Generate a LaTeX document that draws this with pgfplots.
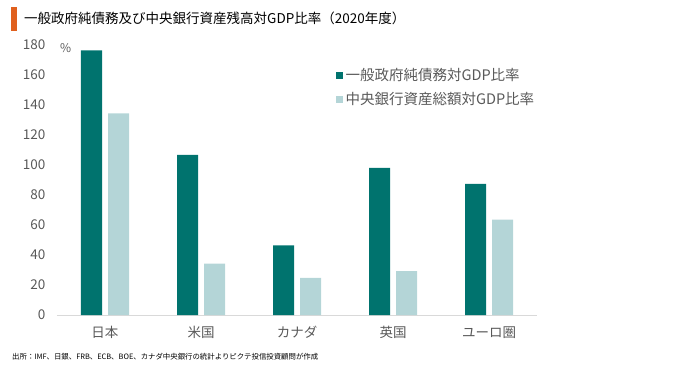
\documentclass[border=0pt]{standalone}
\usepackage{fontspec}
\setmainfont{Noto Sans CJK JP}
\usepackage{pgfplots}
\pgfplotsset{compat=1.18}
\definecolor{darkteal}{HTML}{00736E}
\definecolor{lightteal}{HTML}{B4D5D7}
\definecolor{txtgray}{HTML}{595959}
\definecolor{axgray}{HTML}{D9D9D9}
\definecolor{orangebar}{HTML}{E0601E}
\begin{document}
\begin{tikzpicture}[x=1pt,y=1pt]
\path[use as bounding box] (0,0) rectangle (680,368);
\fill[orangebar] (11,337) rectangle (17,361);
\node[anchor=west,inner sep=0pt,font=\fontsize{13.5}{14}\selectfont] at (24,350) {一般政府純債務及び中央銀行資産残高対GDP比率（2020年度）};
\node[anchor=west,inner sep=0pt,font=\fontsize{7.4}{8}\selectfont] at (12,11) {出所：IMF、日銀、FRB、ECB、BOE、カナダ中央銀行の統計よりピクテ投信投資顧問が作成};
\node[anchor=west,inner sep=0pt,text=txtgray,font=\fontsize{12}{13}\selectfont] at (60,320) {\%};
\begin{axis}[
  at={(57pt,53pt)}, anchor=south west,
  scale only axis, width=480pt, height=270pt,
  xmin=-0.5, xmax=4.5, ymin=0, ymax=180,
  ytick={0,20,...,180},
  xtick={0,1,2,3,4},
  xticklabels={日本,米国,カナダ,英国,ユーロ圏},
  axis x line=bottom, axis y line=left,
  x axis line style={draw=axgray, line width=1pt, -},
  y axis line style={draw=none},
  major tick length=0pt,
  tick label style={text=txtgray, font=\fontsize{13.5}{14}\selectfont},
  /pgf/number format/assume math mode=true,
  yticklabel style={xshift=-8pt},
  xticklabel style={yshift=-8pt},
  legend style={draw=none, fill=none, at={(0.58,0.92)}, anchor=north west,
    font=\fontsize{14.5}{15}\selectfont, text=txtgray, row sep=6pt,
    legend cell align=left, inner sep=0pt,
    nodes={inner xsep=3pt}},
  legend image code/.code={\fill[#1] (0pt,-3.5pt) rectangle (7pt,3.5pt);},
]
\addplot[ybar, bar width=21pt, bar shift=-13.5pt, fill=darkteal, draw=none] coordinates {(0,176.5) (1,106.8) (2,46.5) (3,98.1) (4,87.5)};
\addlegendentry{一般政府純債務対GDP比率}
\addplot[ybar, bar width=21pt, bar shift=13.5pt, fill=lightteal, draw=none] coordinates {(0,134.4) (1,34.3) (2,24.8) (3,29.2) (4,63.6)};
\addlegendentry{中央銀行資産総額対GDP比率}
\end{axis}
\end{tikzpicture}
\end{document}
